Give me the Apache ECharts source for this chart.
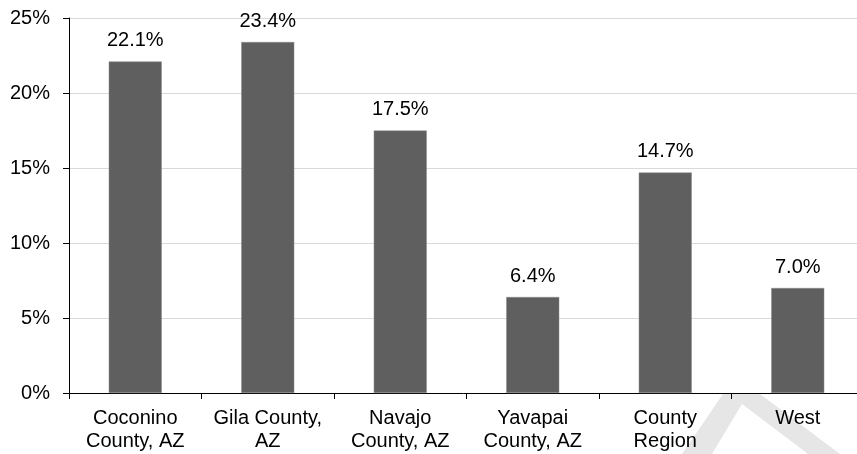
<!DOCTYPE html>
<html>
<head>
<meta charset="utf-8">
<script src="https://cdn.jsdelivr.net/npm/echarts@6/dist/echarts.min.js"></script>
<style>
  html, body { margin: 0; padding: 0; background: #fff; }
  #chart { width: 857px; height: 454px; }
</style>
</head>
<body>
<div id="chart"></div>
<script>
const categories = ['Coconino\nCounty, AZ', 'Gila County,\nAZ', 'Navajo\nCounty, AZ', 'Yavapai\nCounty, AZ', 'County\nRegion', 'West']
const values = [22.1, 23.4, 17.5, 6.4, 14.7, 7.0]
const yMax = 25
const yStep = 5

const font = 'Liberation Sans, Arial, sans-serif'

const chart = echarts.init(document.getElementById('chart'))

chart.setOption({
  animation: false,
  grid: {
    left: 69,
    top: 18,
    width: 795,
    bottom: 61,
    outerBoundsMode: 'none'
  },
  // faint watermark chevron in the lower right
  graphic: [{
    type: 'polygon',
    z: -1,
    shape: {
      points: [[682, 454], [723, 394], [760, 394], [840, 454], [808, 454], [742, 404], [712, 454]]
    },
    style: { fill: '#e6e6e6' }
  }],
  xAxis: {
    type: 'category',
    data: categories,
    axisLine: { lineStyle: { color: '#000', width: 1 } },
    axisTick: { show: true, length: 6, inside: false, lineStyle: { color: '#000' } },
    axisLabel: {
      color: '#000',
      fontFamily: font,
      fontSize: 20,
      lineHeight: 23,
      margin: 14,
      interval: 0
    }
  },
  yAxis: {
    type: 'value',
    min: 0,
    max: yMax,
    interval: yStep,
    axisLine: { show: true, lineStyle: { color: '#000', width: 1 } },
    axisTick: { show: true, length: 6, lineStyle: { color: '#000' } },
    splitLine: { lineStyle: { color: '#d9d9d9', width: 1 } },
    axisLabel: {
      color: '#000',
      fontFamily: font,
      fontSize: 20,
      margin: 19,
      formatter: '{value}%'
    }
  },
  series: [{
    type: 'bar',
    data: values,
    barWidth: '40%',
    itemStyle: { color: '#5f5f5f', borderColor: '#8a8a8a', borderWidth: 0.5 },
    label: {
      show: true,
      position: 'top',
      distance: 11,
      color: '#000',
      fontFamily: font,
      fontSize: 20,
      formatter: p => p.value.toFixed(1) + '%'
    }
  }]
})
</script>
</body>
</html>
